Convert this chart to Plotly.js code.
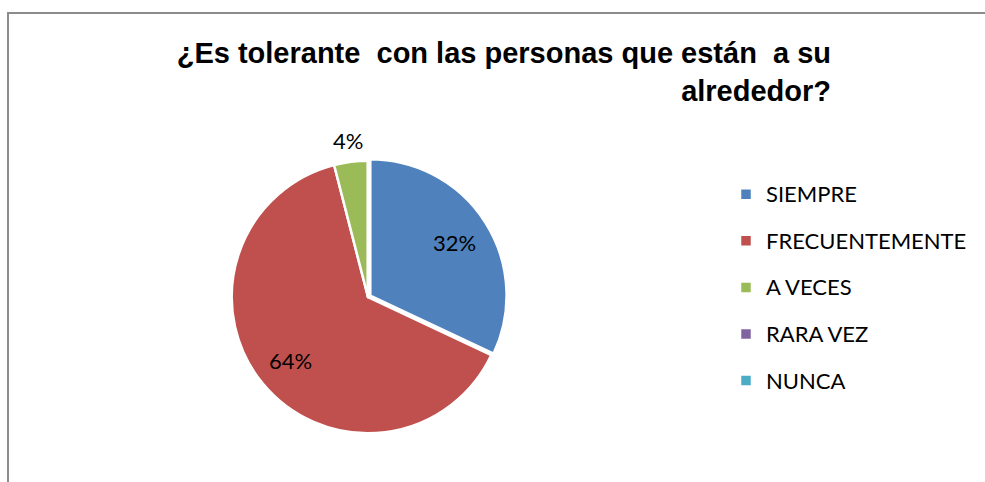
<!DOCTYPE html>
<html>
<head>
<meta charset="utf-8">
<script src="https://cdn.plot.ly/plotly-3.0.1.min.js"></script>
<style>html,body{margin:0;padding:0;background:#fff;}#chart{width:985px;height:482px;}</style>
</head>
<body>
<div id="chart"></div>
<script>
const categories = ['SIEMPRE', 'FRECUENTEMENTE', 'A VECES', 'RARA VEZ', 'NUNCA'];
const values = [32, 64, 4, 0, 0];
const sliceColors = ['#4F81BD', '#C0504D', '#9BBB59', '#8064A2', '#4BACC6'];
const labelRadius = [0.73, 0.735, 1.16, 0.73, 0.73];
const pulls = [0.02, 0, 0, 0, 0];

const W = 985, H = 482;
const cx = 368, cy = 297, half = 139;
const r = half / (1 + Math.max(...pulls));

const legendLabels = categories.map(c => '<span style="font-size:22px;baseline-shift:5px">' + c + '</span>');

// data labels placed from the slice angles derived from the values
const total = values.reduce((a, b) => a + b, 0);
let cum = 0;
const annotations = [];
values.forEach((v, i) => {
  const mid = (cum + v / 2) / total * 2 * Math.PI;
  cum += v;
  if (v <= 0) return;
  const rr = r * (labelRadius[i] + pulls[i]);
  const px = cx + rr * Math.sin(mid);
  const py = cy - rr * Math.cos(mid);
  annotations.push({
    xref: 'paper', yref: 'paper', x: px / W, y: 1 - py / H,
    xanchor: 'center', yanchor: 'middle', showarrow: false,
    text: Math.round(v / total * 100) + '%',
    font: {family: 'Lato, sans-serif', size: 22, color: '#000000'}
  });
});

const trace = {
  type: 'pie',
  labels: legendLabels,
  values: values,
  sort: false,
  direction: 'clockwise',
  rotation: 0,
  pull: pulls,
  marker: {colors: sliceColors, line: {color: '#ffffff', width: 2.5}},
  textinfo: 'none',
  hoverinfo: 'skip',
  domain: {x: [(cx - half) / W, (cx + half) / W], y: [1 - (cy + half) / H, 1 - (cy - half) / H]}
};

const layout = {
  width: W, height: H,
  margin: {l: 0, r: 0, t: 0, b: 0},
  paper_bgcolor: '#ffffff',
  title: {
    text: '¿Es tolerante \u00A0con las personas que están \u00A0a su<br>alrededor?',
    font: {family: 'Liberation Sans, Arial, sans-serif', size: 29, color: '#000000', weight: 'bold'},
    xref: 'container', yref: 'container',
    x: 831 / W, xanchor: 'right',
    y: 1 - 63 / H, yanchor: 'top'
  },
  showlegend: true,
  legend: {
    x: 726 / W, xanchor: 'left',
    y: 1 - 166 / H, yanchor: 'top',
    font: {family: 'Lato, sans-serif', size: 33.5, color: '#000000'},
    bgcolor: 'rgba(0,0,0,0)'
  },
  annotations: annotations,
  shapes: [{
    type: 'rect', xref: 'paper', yref: 'paper',
    x0: 8 / W, x1: 1.05, y0: -0.05, y1: 1 - 13 / H,
    line: {color: '#8c8c8c', width: 2}, fillcolor: 'rgba(0,0,0,0)'
  }]
};

Plotly.newPlot('chart', [trace], layout, {displayModeBar: false, staticPlot: true});
</script>
</body>
</html>
